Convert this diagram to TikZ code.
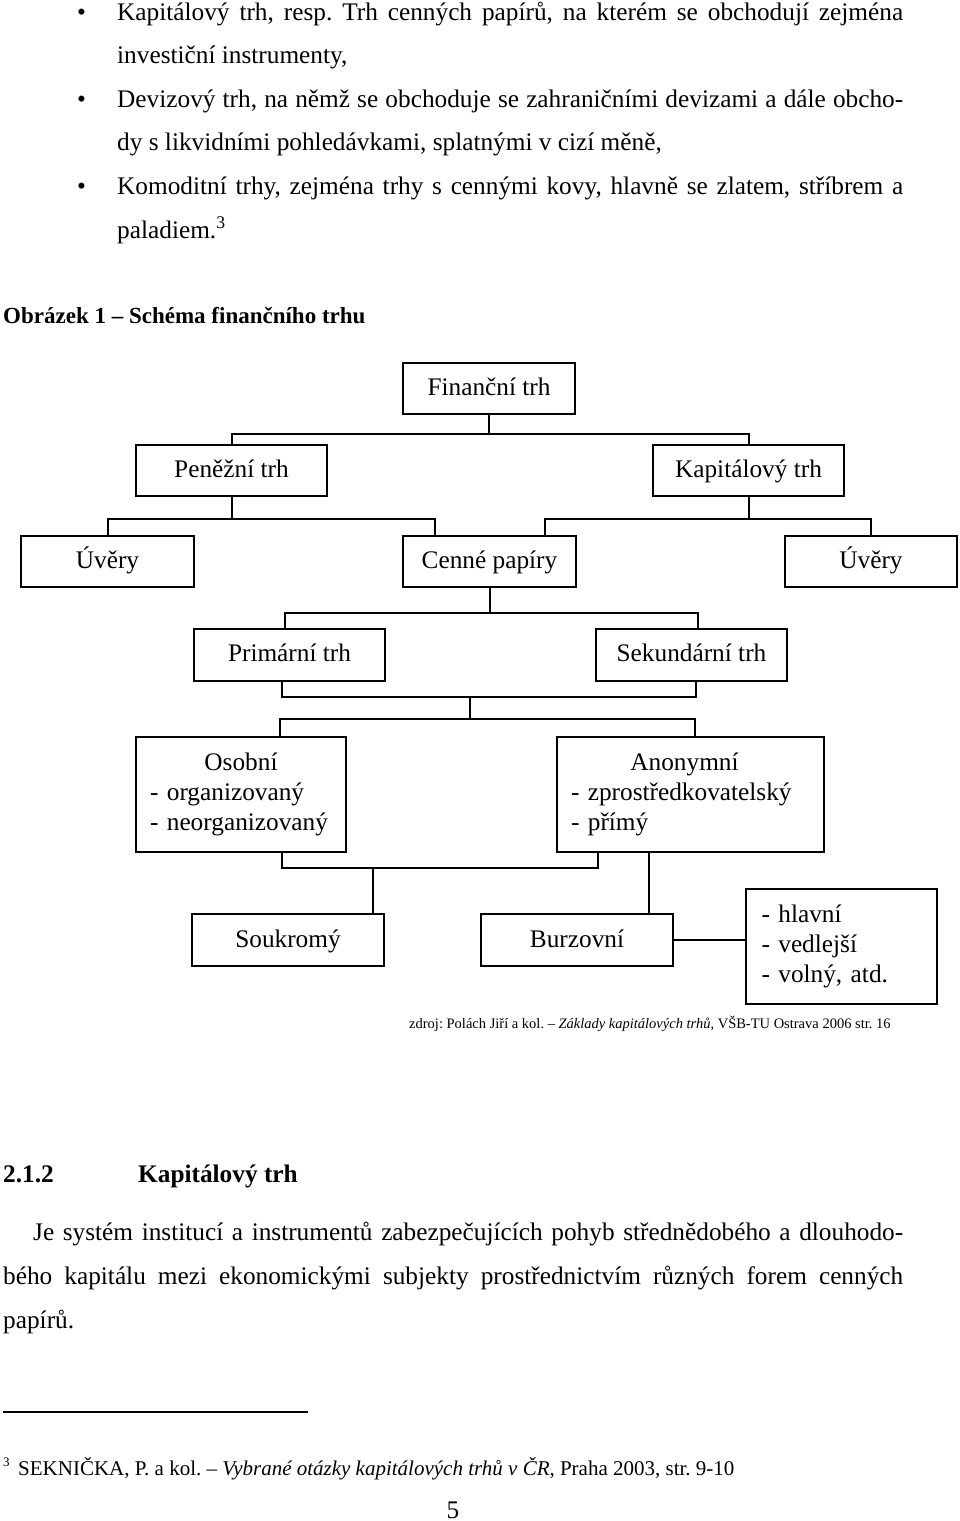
\documentclass[tikz,border=0pt]{standalone}
\usepackage{fontspec}
\setmainfont{Liberation Serif}
\usetikzlibrary{positioning}

\newcommand{\bodyfont}{\fontsize{25.3}{43.6}\selectfont}
\newcommand{\boxfont}{\fontsize{25.3}{30}\selectfont\hyphenpenalty=10000}
\frenchspacing

\begin{document}
\begin{tikzpicture}[x=1pt, y=-1pt,
    frame/.style={draw, line width=2pt, inner sep=0pt, font=\boxfont},
    box/.style={frame, minimum height=51pt, align=center, text height=18.5pt, text depth=4.5pt},
    listbox/.style={frame, align=left, inner xsep=14pt, minimum height=115pt},
    txt/.style={anchor=base west, inner sep=0pt, font=\bodyfont},
    link/.style={line width=2pt},
]
\useasboundingbox (0,0) rectangle (960,1521);

% Text above the figure
\foreach \y [count=\i] in {20,107.2,194.4}
    \node[txt] (bul\i) at (77,\y) {•};
\node[txt] (l1) at (117,20) {\makebox[786pt][s]{Kapitálový trh, resp. Trh cenných papírů, na kterém se obchodují zejména}};
\node[txt] (l2) at (117,63.6) {investiční instrumenty,};
\node[txt] (l3) at (117,107.2) {\makebox[786pt][s]{Devizový trh, na němž se obchoduje se zahraničními devizami a dále obcho-}};
\node[txt] (l4) at (117,150.8) {dy s likvidními pohledávkami, splatnými v cizí měně,};
\node[txt] (l5) at (117,194.4) {\makebox[786pt][s]{Komoditní trhy, zejména trhy s cennými kovy, hlavně se zlatem, stříbrem a}};
\node[txt] (l6) at (117,238) {paladiem.\textsuperscript{3}};
\node[txt, font=\fontsize{23}{28}\selectfont\bfseries] (caption) at (3,323) {Obrázek 1 – Schéma finančního trhu};

% Boxes
\node[box, minimum width=172pt] (fin) at (489,388) {Finanční trh};
\node[box, minimum width=191pt] (pen) at (231.5,470.5) {Peněžní trh};
\node[box, minimum width=191pt, right=324pt of pen] (kap) {Kapitálový trh};
\node[box, minimum width=173pt] (uv1) at (107.5,561.5) {Úvěry};
\node[box, minimum width=173pt] (cp) at (489.5,561.5) {Cenné papíry};
\node[box, minimum width=172pt] (uv2) at (871,561.5) {Úvěry};
\node[box, minimum width=191pt, minimum height=52pt] (prim) at (289.5,654.5) {Primární trh};
\node[box, minimum width=191pt, minimum height=52pt, right=209pt of prim] (sek) {Sekundární trh};
\node[listbox, text width=182pt] (os) at (241,794.5) {\makebox[182pt]{Osobní}\\- organizovaný\\- neorganizovaný};
\node[listbox, text width=239pt, right=209pt of os] (an) {\makebox[227pt]{Anonymní}\\- zprostředkovatelský\\- přímý};
\node[box, minimum width=192pt, minimum height=52pt] (souk) at (288,940) {Soukromý};
\node[box, minimum width=192pt, minimum height=52pt, right=95pt of souk] (burz) {Burzovní};
\node[listbox, text width=160pt, inner xsep=15.5pt] (hl) at (841.5,946.5) {- hlavní\\- vedlejší\\- volný, atd.};

% Connectors
\draw[link] (fin.south) -- ++(0,19) coordinate (j1);
\draw[link] (pen.north) -- (pen.north |- j1) -- (kap.north |- j1) -- (kap.north);

\coordinate (cpl) at ([xshift=33pt]cp.north west);
\coordinate (cpr) at ([xshift=-32pt]cp.north east);
\draw[link] (pen.south) -- ++(0,22) coordinate (j2);
\draw[link] (uv1.north) -- (uv1.north |- j2) -- (cpl |- j2) -- (cpl);
\draw[link] (kap.south) -- ++(0,22) coordinate (j3);
\draw[link] (cpr) -- (cpr |- j3) -- (uv2.north |- j3) -- (uv2.north);

\draw[link] (cp.south) -- ++(0,25) coordinate (j4);
\draw[link] ([xshift=-5pt]prim.north) |- (j4) -| ([xshift=6pt]sek.north);

\coordinate (j5) at (470,697);
\coordinate (j6) at (470,719);
\draw[link] ([xshift=-8pt]prim.south) |- (j5) -| ([xshift=4pt]sek.south);
\draw[link] (j5) -- (j6);
\draw[link] ([xshift=39pt]os.north) |- (j6) -| ([xshift=4pt]an.north);

\coordinate (j7) at (373,868);
\draw[link] ([xshift=41pt]os.south) |- (j7) -| ([xshift=-93pt]an.south);
\draw[link] (j7) -- (j7 |- souk.north);
\draw[link] ([xshift=-42pt]an.south) -- ([xshift=-42pt]an.south |- burz.north);
\draw[link] (burz.east) -- (burz.east -| hl.west);

% Source and text below the figure
\node[txt, font=\fontsize{14.5}{17}\selectfont] (src) at (409,1028) {zdroj: Polách Jiří a kol. – \textit{Základy kapitálových trhů}, VŠB-TU Ostrava 2006 str. 16};
\node[txt, font=\bodyfont\bfseries] (secnum) at (3,1182) {2.1.2};
\node[txt, font=\bodyfont\bfseries] (sectitle) at (138,1182) {Kapitálový trh};
\node[txt] (p1) at (33,1240) {\makebox[870pt][s]{Je systém institucí a instrumentů zabezpečujících pohyb střednědobého a dlouhodo-}};
\node[txt] (p2) at (3,1284) {\makebox[900pt][s]{bého kapitálu mezi ekonomickými subjekty prostřednictvím různých forem cenných}};
\node[txt] (p3) at (3,1328) {papírů.};

% Footnote
\coordinate (rulestart) at (3,1412);
\draw[line width=1.3pt] (rulestart) -- ++(305,0) coordinate (ruleend);
\node[txt, font=\fontsize{13}{15}\selectfont] (fnmark) at (3,1466) {3};
\node[txt, font=\fontsize{21}{25}\selectfont] (fn) at (18,1475) {SEKNIČKA, P. a kol. – \textit{Vybrané otázky kapitálových trhů v ČR}, Praha 2003, str. 9-10};
\node[anchor=base, inner sep=0pt, font=\bodyfont] (pagenum) at (453,1518) {5};
\end{tikzpicture}
\end{document}
